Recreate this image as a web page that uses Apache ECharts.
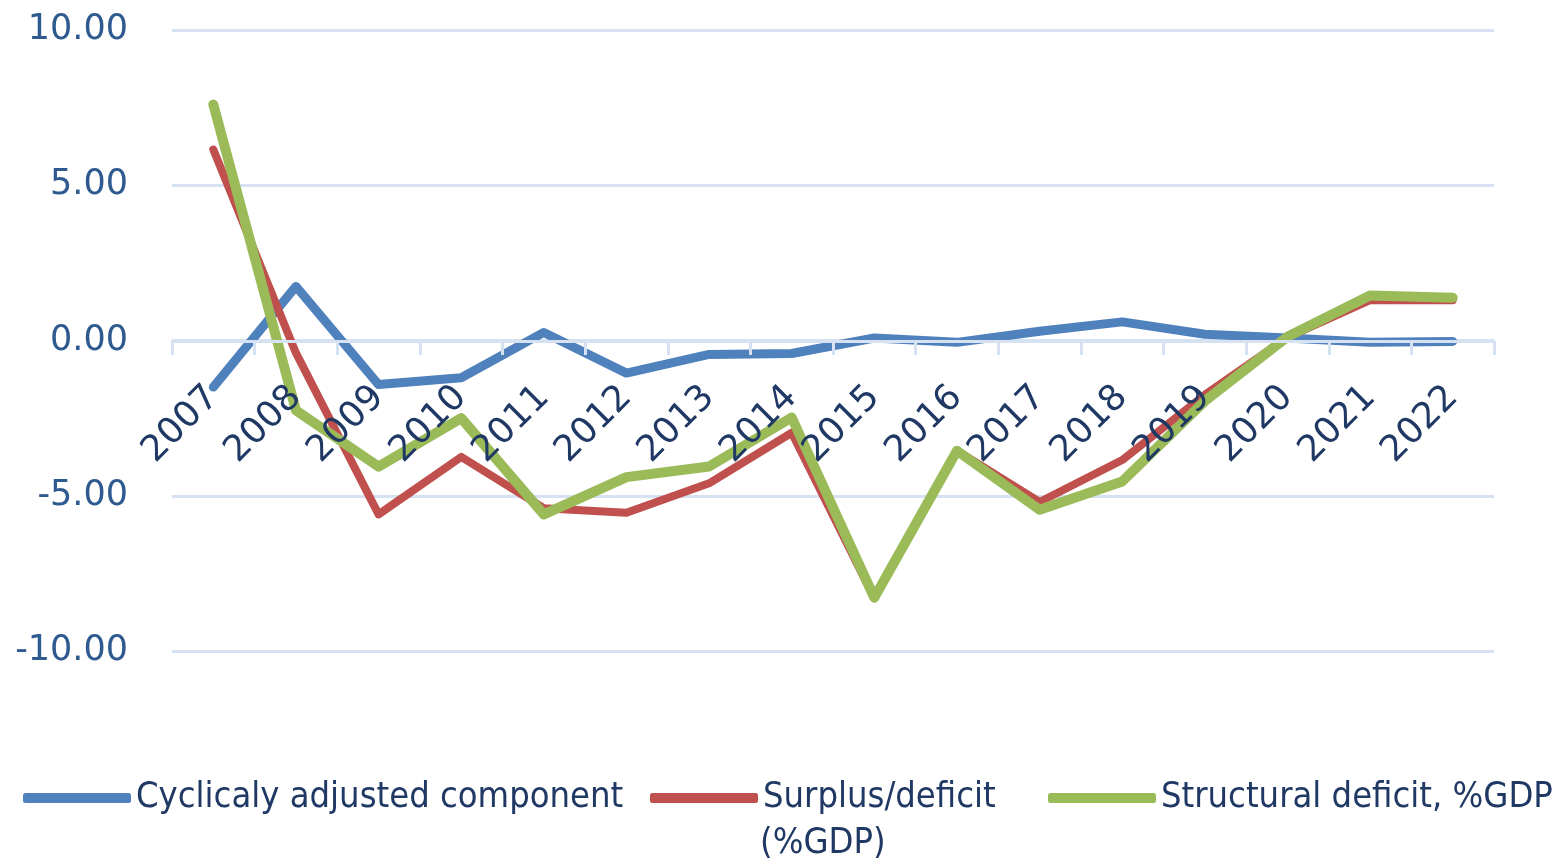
<!DOCTYPE html>
<html>
<head>
<meta charset="utf-8">
<script src="https://cdn.jsdelivr.net/npm/echarts@6/dist/echarts.min.js"></script>
<style>
html,body{margin:0;padding:0;background:#fff;}
#chart{width:1556px;height:866px;}
</style>
</head>
<body>
<div id="chart"></div>
<script>
const years = ['2007','2008','2009','2010','2011','2012','2013','2014','2015','2016','2017','2018','2019','2020','2021','2022'];
const cyclical = [-1.5, 1.74, -1.42, -1.2, 0.26, -1.05, -0.45, -0.42, 0.08, -0.06, 0.3, 0.6, 0.2, 0.08, -0.06, -0.03];
const surplus = [6.15, -0.4, -5.6, -3.75, -5.4, -5.55, -4.6, -2.97, -8.3, -3.55, -5.2, -3.85, -1.75, 0.1, 1.3, 1.3];
const structural = [7.6, -2.25, -4.06, -2.5, -5.6, -4.4, -4.06, -2.48, -8.28, -3.55, -5.45, -4.54, -1.95, 0.12, 1.45, 1.38];
const yTicks = {min: -10, max: 10, interval: 5};
const names = ['Cyclicaly adjusted component', 'Surplus/deficit (%GDP)', 'Structural deficit, %GDP'];

const legendFamily = 'Liberation Sans Narrow, DejaVu Sans Condensed, Liberation Sans';
const legendFont = {fontFamily: legendFamily, fontSize: 36, color: '#1f3864'};
const chart = echarts.init(document.getElementById('chart'), null, {renderer: 'canvas'});
chart.setOption({
  animation: false,
  backgroundColor: '#ffffff',
  grid: {left: 172, right: 62, top: 30, bottom: 215},
  xAxis: {
    type: 'category',
    data: years,
    boundaryGap: true,
    position: 'bottom',
    offset: -310,
    z: 5,
    axisLine: {onZero: false, lineStyle: {color: '#d6e1f2', width: 3}},
    axisTick: {show: true, length: 14, lineStyle: {color: '#d6e1f2', width: 3}},
    axisLabel: {rotate: 45, margin: 51, fontFamily: 'DejaVu Sans', fontSize: 36, color: '#1f3864'},
    splitLine: {show: false}
  },
  yAxis: {
    type: 'value',
    min: yTicks.min, max: yTicks.max, interval: yTicks.interval,
    axisLine: {show: false},
    axisTick: {show: false},
    axisLabel: {margin: 44, fontFamily: 'DejaVu Sans', fontSize: 35, color: '#2f5a8f', formatter: v => v.toFixed(2)},
    splitLine: {lineStyle: {color: '#d6e1f2', width: 3}}
  },
  legend: [
    {data: [names[0]], left: 18, top: 775, icon: 'roundRect', itemWidth: 108, itemHeight: 10, textStyle: legendFont},
    {data: [names[1]], left: 645, top: 775, icon: 'roundRect', itemWidth: 108, itemHeight: 10, textStyle: legendFont,
      formatter: n => 'Surplus/deficit'},
    {data: [names[2]], left: 1043, top: 775, icon: 'roundRect', itemWidth: 108, itemHeight: 10, textStyle: legendFont}
  ],
  graphic: [{type: 'text', left: 760, top: 826, style: {text: '(%GDP)', font: '36px ' + legendFamily, fill: '#1f3864'}}],
  series: [
    {name: names[0], type: 'line', data: cyclical, symbol: 'none', z: 2, color: '#4f81bd',
      lineStyle: {width: 9, color: '#4f81bd', cap: 'round', join: 'round'}},
    {name: names[1], type: 'line', data: surplus, symbol: 'none', z: 3, color: '#c0504d',
      lineStyle: {width: 8, color: '#c0504d', cap: 'round', join: 'round'}},
    {name: names[2], type: 'line', data: structural, symbol: 'none', z: 4, color: '#9bbb59',
      lineStyle: {width: 10, color: '#9bbb59', cap: 'round', join: 'round'}}
  ]
});
</script>
</body>
</html>
